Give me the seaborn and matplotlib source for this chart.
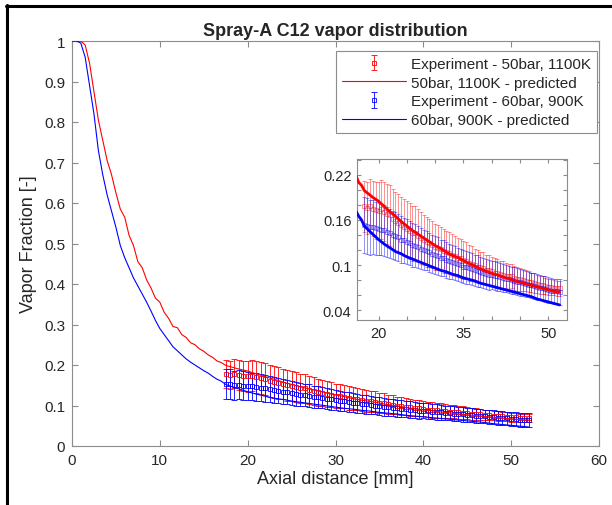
"""Spray-A C12 vapor distribution: predicted vs experiment, with zoomed inset."""

import numpy as np
import pandas as pd
import seaborn as sns
import matplotlib.pyplot as plt
from matplotlib.lines import Line2D

# ---------------------------------------------------------------------------
# Data
# ---------------------------------------------------------------------------
X_PRED = [0, 0.5, 1, 1.5, 2, 2.5, 3, 3.5, 4, 4.5, 5, 5.5, 6, 6.5, 7, 7.5, 8,
          8.5, 9, 9.5, 10, 10.5, 11, 11.5, 12, 12.5, 13, 13.5, 14, 14.5, 15,
          15.5, 16, 16.5, 17, 17.5, 18, 19, 20, 21, 22, 23, 24, 25, 26, 27,
          28, 29, 30, 31, 32, 33, 34, 35, 36, 37, 38, 39, 40, 41, 42, 43, 44,
          45, 46, 47, 48, 49, 50, 51, 52]

RED_PRED = [1.0, 1.0, 1.0, 0.99, 0.945, 0.875, 0.805, 0.755, 0.705, 0.67, 0.625,
            0.585, 0.565, 0.52, 0.495, 0.455, 0.44, 0.41, 0.39, 0.365, 0.355,
            0.33, 0.315, 0.295, 0.292, 0.275, 0.268, 0.255, 0.25, 0.24, 0.234,
            0.225, 0.219, 0.21, 0.206, 0.199, 0.196, 0.19, 0.185, 0.178,
            0.171, 0.165, 0.158, 0.152, 0.146, 0.141, 0.136, 0.131, 0.126,
            0.122, 0.117, 0.113, 0.110, 0.106, 0.102, 0.099, 0.095, 0.092,
            0.089, 0.087, 0.084, 0.082, 0.079, 0.077, 0.075, 0.073, 0.071,
            0.069, 0.067, 0.065, 0.064]

BLUE_PRED = [1.0, 1.0, 0.995, 0.96, 0.89, 0.82, 0.73, 0.67, 0.62, 0.58, 0.54,
             0.495, 0.465, 0.44, 0.415, 0.395, 0.375, 0.355, 0.333, 0.31, 0.29,
             0.275, 0.26, 0.245, 0.235, 0.225, 0.215, 0.207, 0.2, 0.193, 0.186,
             0.18, 0.172, 0.165, 0.16, 0.152, 0.148, 0.141, 0.134, 0.128,
             0.123, 0.118, 0.115, 0.111, 0.108, 0.105, 0.102, 0.099, 0.096,
             0.093, 0.091, 0.088, 0.086, 0.083, 0.081, 0.079, 0.076, 0.074,
             0.072, 0.070, 0.068, 0.066, 0.064, 0.062, 0.060, 0.058, 0.055,
             0.053, 0.051, 0.049, 0.047]

# experiment sampled every 0.5 mm from 17.5 to 52 mm
X_EXP = np.arange(17.5, 52.25, 0.5)

RED_EXP = [0.178, 0.176, 0.179, 0.175, 0.173, 0.172, 0.174, 0.171, 0.168, 0.166,
           0.161, 0.158, 0.156, 0.153, 0.150, 0.148, 0.145, 0.142, 0.143, 0.139,
           0.136, 0.133, 0.131, 0.129, 0.127, 0.124, 0.123, 0.122, 0.119, 0.117,
           0.116, 0.114, 0.112, 0.110, 0.109, 0.107, 0.106, 0.103, 0.102, 0.100,
           0.098, 0.097, 0.096, 0.094, 0.094, 0.092, 0.090, 0.089, 0.088, 0.087,
           0.086, 0.085, 0.085, 0.083, 0.082, 0.081, 0.080, 0.079, 0.078, 0.077,
           0.076, 0.075, 0.074, 0.073, 0.072, 0.071, 0.071, 0.070, 0.069, 0.069]

RED_ERR = [0.034, 0.035, 0.036, 0.037, 0.038, 0.038, 0.039, 0.039, 0.040, 0.040,
           0.040, 0.039, 0.039, 0.038, 0.038, 0.037, 0.037, 0.036, 0.036, 0.035,
           0.034, 0.033, 0.033, 0.032, 0.031, 0.030, 0.030, 0.029, 0.029, 0.028,
           0.028, 0.027, 0.027, 0.026, 0.026, 0.025, 0.025, 0.024, 0.023, 0.022,
           0.022, 0.021, 0.021, 0.020, 0.020, 0.019, 0.019, 0.019, 0.018, 0.018,
           0.017, 0.017, 0.016, 0.016, 0.016, 0.015, 0.015, 0.014, 0.014, 0.013,
           0.013, 0.012, 0.012, 0.012, 0.011, 0.011, 0.011, 0.010, 0.010, 0.010]

BLUE_EXP = [0.153, 0.152, 0.150, 0.151, 0.149, 0.148, 0.147, 0.146, 0.144, 0.142,
            0.140, 0.139, 0.137, 0.134, 0.133, 0.131, 0.129, 0.127, 0.126, 0.124,
            0.122, 0.120, 0.119, 0.117, 0.115, 0.113, 0.112, 0.110, 0.109, 0.107,
            0.105, 0.104, 0.103, 0.101, 0.100, 0.098, 0.097, 0.096, 0.095, 0.093,
            0.092, 0.091, 0.090, 0.088, 0.087, 0.087, 0.086, 0.085, 0.084, 0.083,
            0.082, 0.081, 0.080, 0.079, 0.078, 0.077, 0.076, 0.075, 0.074, 0.073,
            0.072, 0.071, 0.070, 0.069, 0.068, 0.067, 0.066, 0.065, 0.065, 0.064]

BLUE_ERR = [0.037, 0.037, 0.036, 0.036, 0.035, 0.035, 0.034, 0.034, 0.033, 0.033,
            0.032, 0.032, 0.031, 0.031, 0.030, 0.030, 0.029, 0.029, 0.028, 0.028,
            0.027, 0.027, 0.026, 0.026, 0.025, 0.025, 0.025, 0.024, 0.024, 0.024,
            0.023, 0.023, 0.023, 0.022, 0.022, 0.022, 0.022, 0.021, 0.021, 0.021,
            0.021, 0.020, 0.020, 0.020, 0.020, 0.019, 0.019, 0.019, 0.019, 0.019,
            0.018, 0.018, 0.018, 0.018, 0.018, 0.018, 0.017, 0.017, 0.017, 0.017,
            0.017, 0.017, 0.017, 0.017, 0.017, 0.017, 0.017, 0.017, 0.017, 0.017]

LABELS = ["Experiment - 50bar, 1100K", "50bar, 1100K - predicted",
          "Experiment - 60bar, 900K", "60bar, 900K - predicted"]

# ---------------------------------------------------------------------------
# Styling
# ---------------------------------------------------------------------------
sns.set_theme(style="white")
plt.rcParams["font.family"] = ["Liberation Sans", "DejaVu Sans"]
plt.rcParams["text.color"] = "#262626"
AX_GRAY = "#8c8c8c"

pred = pd.DataFrame({"x": X_PRED, "red": RED_PRED, "blue": BLUE_PRED})


def style_axes(ax, fontsize=11):
    for sp in ax.spines.values():
        sp.set_color(AX_GRAY)
        sp.set_linewidth(0.8)
    ax.tick_params(direction="in", length=4, width=0.8, color=AX_GRAY,
                   labelsize=fontsize, labelcolor="#262626",
                   top=True, right=True, bottom=True, left=True, pad=5)


def draw(ax, lw_line, bar_alpha, cap):
    h = []
    h.append(ax.errorbar(X_EXP, RED_EXP, yerr=RED_ERR, color="red",
                         elinewidth=0.6, linestyle="none",
                         marker="s", ms=2.5, mfc="none", mew=0.6,
                         capsize=cap, capthick=0.6, alpha=bar_alpha, zorder=2))
    sns.lineplot(data=pred, x="x", y="red", ax=ax, color="red",
                 linewidth=lw_line, sort=False, estimator=None, zorder=3)
    h.append(Line2D([], [], color="red", linewidth=0.8))
    h.append(ax.errorbar(X_EXP, BLUE_EXP, yerr=BLUE_ERR, color="blue",
                         elinewidth=0.6, linestyle="none",
                         marker="s", ms=2.5, mfc="none", mew=0.6,
                         capsize=cap, capthick=0.6, alpha=bar_alpha, zorder=2))
    sns.lineplot(data=pred, x="x", y="blue", ax=ax, color="blue",
                 linewidth=lw_line, sort=False, estimator=None, zorder=3)
    h.append(Line2D([], [], color="blue", linewidth=0.8))
    return h


fig = plt.figure(figsize=(6.12, 5.06), dpi=100)
fig.patch.set_facecolor("white")

# main axes
ax = fig.add_axes([72 / 612, 1 - 447 / 506, 527 / 612, 405 / 506])
handles = draw(ax, 0.8, 1.0, 2.0)
ax.set_xlim(0, 60)
ax.set_ylim(0, 1)
ax.set_xticks(range(0, 61, 10))
ax.set_yticks(np.arange(0, 1.01, 0.1))
ax.set_yticklabels(["0", "0.1", "0.2", "0.3", "0.4", "0.5", "0.6", "0.7",
                    "0.8", "0.9", "1"])
style_axes(ax)
ax.set_xlabel("Axial distance [mm]", fontsize=13, labelpad=2)
ax.set_ylabel("Vapor Fraction [-]", fontsize=13, labelpad=5)
ax.set_title("Spray-A C12 vapor distribution", fontsize=13, fontweight="bold",
             pad=4)

leg = ax.legend(handles, LABELS, loc="upper right",
                bbox_to_anchor=(597 / 612, 1 - 52 / 506),
                bbox_transform=fig.transFigure, borderaxespad=0,
                fontsize=11, frameon=True, fancybox=False, framealpha=1,
                edgecolor=AX_GRAY, handlelength=4.2, handletextpad=0.3,
                labelspacing=0.3, borderpad=0.4)
leg.get_frame().set_linewidth(0.8)

# inset
axi = fig.add_axes([357 / 612, 1 - 321 / 506, 210 / 612, 161 / 506])
draw(axi, 2.0, 0.5, 1.2)
axi.set_xlim(16.2, 53.3)
axi.set_ylim(0.027, 0.241)
axi.set_xticks(range(20, 51, 5))
axi.set_xticklabels(["20", "", "", "35", "", "", "50"])
axi.set_yticks(np.arange(0.04, 0.241, 0.02))
axi.set_yticklabels(["0.04", "", "", "0.1", "", "", "0.16", "", "", "0.22", ""])
axi.set_xlabel("")
axi.set_ylabel("")
style_axes(axi, fontsize=10.5)
axi.tick_params(length=3, pad=4)

# black page frame (top and left edges)
fig.add_artist(Line2D([6 / 612, 1], [1 - 7 / 506, 1 - 7 / 506],
                      transform=fig.transFigure, color="black", lw=2.2))
fig.add_artist(Line2D([7 / 612, 7 / 612], [0, 1 - 6 / 506],
                      transform=fig.transFigure, color="black", lw=2.2))

fig.savefig("out.png", dpi=100)
